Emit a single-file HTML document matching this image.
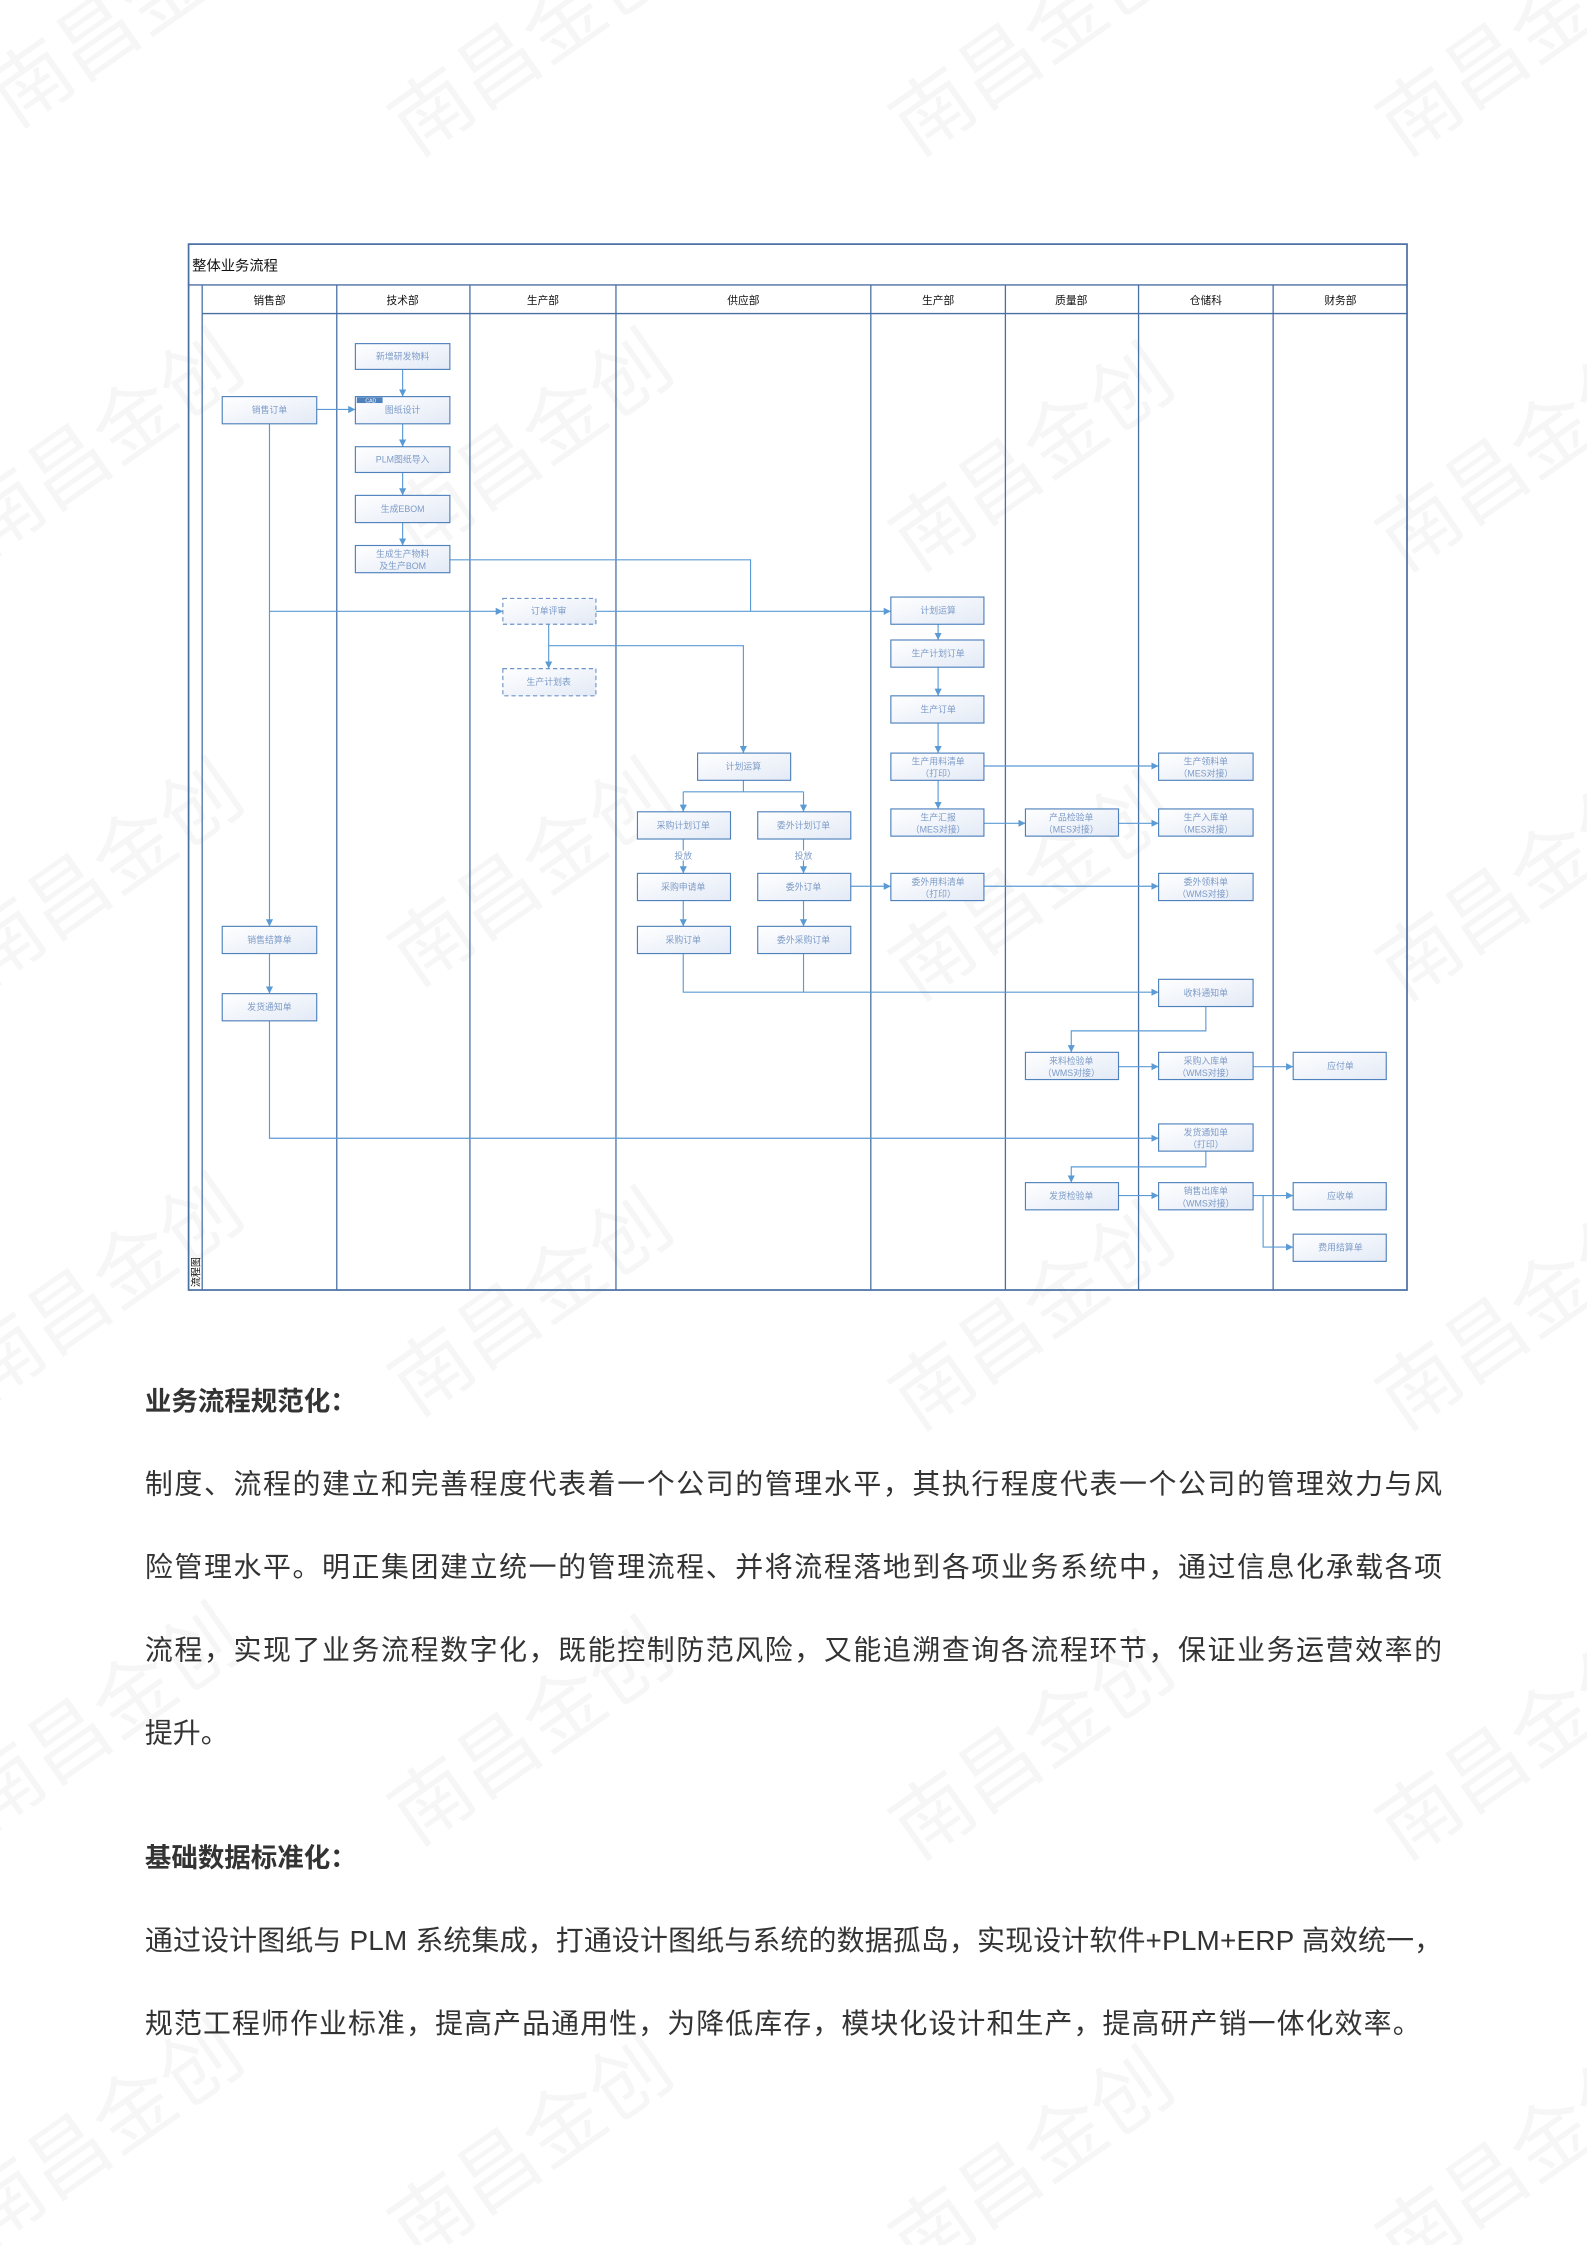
<!DOCTYPE html>
<html><head><meta charset="utf-8">
<style>
html,body{margin:0;padding:0;background:#fff;}
svg{display:block;}
.bx{fill:url(#g);stroke:#4f81bd;stroke-width:0.8;}
.dbx{fill:url(#g);stroke:#6f95c8;stroke-width:0.8;stroke-dasharray:3 2;}
.bt{font-family:"Liberation Sans","Noto Sans CJK SC",sans-serif;font-size:6.2px;fill:#7d9bc8;text-anchor:middle;}
.ln{fill:none;stroke:#5b9bd5;stroke-width:0.8;}
.lane{stroke:#4a6fa5;stroke-width:0.9;}
.hd{font-family:"Liberation Sans","Noto Sans CJK SC",sans-serif;font-size:7.5px;fill:#111;text-anchor:middle;}
.wm{font-family:"Noto Sans CJK SC",sans-serif;font-size:56px;fill:#000;fill-opacity:0.035;}
.p{font-family:"Liberation Sans","Noto Sans CJK SC",sans-serif;font-size:19.5px;fill:#333;}
.h{font-family:"Liberation Sans","Noto Sans CJK SC",sans-serif;font-size:18.5px;font-weight:bold;fill:#333;}
</style></head>
<body>
<svg width="1587" height="2245" viewBox="0 0 1108 1568" xmlns="http://www.w3.org/2000/svg">
<defs>
<linearGradient id="g" x1="0" y1="0" x2="1" y2="1"><stop offset="0" stop-color="#ffffff"/><stop offset="1" stop-color="#e3eaf6"/></linearGradient>
<marker id="a" markerUnits="userSpaceOnUse" markerWidth="6" markerHeight="6" refX="5" refY="3" orient="auto"><path d="M0,0.5 L5,3 L0,5.5 z" fill="#5b9bd5"/></marker>
</defs>
<rect width="1108" height="1568" fill="#fff"/>

<!-- watermarks -->
<g class="wm">
<text transform="translate(10,90) rotate(-35)">南昌金创</text>
<text transform="translate(290,110) rotate(-35)">南昌金创</text>
<text transform="translate(640,110) rotate(-35)">南昌金创</text>
<text transform="translate(980,110) rotate(-35)">南昌金创</text>
<text transform="translate(-10,390) rotate(-35)">南昌金创</text>
<text transform="translate(290,390) rotate(-35)">南昌金创</text>
<text transform="translate(640,400) rotate(-35)">南昌金创</text>
<text transform="translate(980,400) rotate(-35)">南昌金创</text>
<text transform="translate(-10,690) rotate(-35)">南昌金创</text>
<text transform="translate(290,690) rotate(-35)">南昌金创</text>
<text transform="translate(640,700) rotate(-35)">南昌金创</text>
<text transform="translate(980,700) rotate(-35)">南昌金创</text>
<text transform="translate(-10,980) rotate(-35)">南昌金创</text>
<text transform="translate(290,990) rotate(-35)">南昌金创</text>
<text transform="translate(640,1000) rotate(-35)">南昌金创</text>
<text transform="translate(980,1000) rotate(-35)">南昌金创</text>
<text transform="translate(-10,1280) rotate(-35)">南昌金创</text>
<text transform="translate(290,1290) rotate(-35)">南昌金创</text>
<text transform="translate(640,1300) rotate(-35)">南昌金创</text>
<text transform="translate(980,1300) rotate(-35)">南昌金创</text>
<text transform="translate(-10,1570) rotate(-35)">南昌金创</text>
<text transform="translate(290,1580) rotate(-35)">南昌金创</text>
<text transform="translate(640,1590) rotate(-35)">南昌金创</text>
<text transform="translate(980,1590) rotate(-35)">南昌金创</text>
</g>

<!-- frame -->
<rect x="131.5" y="170.5" width="851" height="730.5" fill="none" stroke="#4a6fa5" stroke-width="1.2"/>
<line x1="131" y1="199" x2="983" y2="199" class="lane"/>
<line x1="141" y1="219" x2="983" y2="219" class="lane"/>
<text x="134" y="189" font-family="Liberation Sans,Noto Sans CJK SC,sans-serif" font-size="10" fill="#111">整体业务流程</text>
<g>
<line x1="141" y1="199" x2="141" y2="901" class="lane"/>
<line x1="235" y1="199" x2="235" y2="901" class="lane"/>
<line x1="328" y1="199" x2="328" y2="901" class="lane"/>
<line x1="430" y1="199" x2="430" y2="901" class="lane"/>
<line x1="608" y1="199" x2="608" y2="901" class="lane"/>
<line x1="702" y1="199" x2="702" y2="901" class="lane"/>
<line x1="795" y1="199" x2="795" y2="901" class="lane"/>
<line x1="889" y1="199" x2="889" y2="901" class="lane"/>
</g>
<text x="188" y="212.5" class="hd">销售部</text>
<text x="281" y="212.5" class="hd">技术部</text>
<text x="379" y="212.5" class="hd">生产部</text>
<text x="519" y="212.5" class="hd">供应部</text>
<text x="655" y="212.5" class="hd">生产部</text>
<text x="748" y="212.5" class="hd">质量部</text>
<text x="842" y="212.5" class="hd">仓储科</text>
<text x="936" y="212.5" class="hd">财务部</text>
<text transform="translate(139,899) rotate(-90)" font-family="Liberation Sans,Noto Sans CJK SC,sans-serif" font-size="7" fill="#111">流程图</text>

<!-- connectors -->
<g class="ln">
<path d="M221 286 H248" marker-end="url(#a)"/>
<path d="M281 258 V277" marker-end="url(#a)"/>
<path d="M281 296 V312" marker-end="url(#a)"/>
<path d="M281 330 V346" marker-end="url(#a)"/>
<path d="M281 365 V381" marker-end="url(#a)"/>
<path d="M314 391 H524 V427"/>
<path d="M188 296 V647" marker-end="url(#a)"/>
<path d="M188 427 H351" marker-end="url(#a)"/>
<path d="M416 427 H622" marker-end="url(#a)"/>
<path d="M383 436 V467" marker-end="url(#a)"/>
<path d="M383 451 H519 V526" marker-end="url(#a)"/>
<path d="M655 436 V447" marker-end="url(#a)"/>
<path d="M655 466 V486" marker-end="url(#a)"/>
<path d="M655 505 V526" marker-end="url(#a)"/>
<path d="M655 545 V565" marker-end="url(#a)"/>
<path d="M519 545 V553 M477 553 H561"/>
<path d="M477 553 V567" marker-end="url(#a)"/>
<path d="M561 553 V567" marker-end="url(#a)"/>
<path d="M477 586 V610" marker-end="url(#a)"/>
<path d="M561 586 V610" marker-end="url(#a)"/>
<path d="M477 629 V647" marker-end="url(#a)"/>
<path d="M561 629 V647" marker-end="url(#a)"/>
<path d="M594 619 H622" marker-end="url(#a)"/>
<path d="M477 666 V693 H809" marker-end="url(#a)"/>
<path d="M561 666 V693"/>
<path d="M188 666 V694" marker-end="url(#a)"/>
<path d="M188 713 V795 H809" marker-end="url(#a)"/>
<path d="M687 535 H809" marker-end="url(#a)"/>
<path d="M687 575 H716" marker-end="url(#a)"/>
<path d="M781 575 H809" marker-end="url(#a)"/>
<path d="M687 619 H809" marker-end="url(#a)"/>
<path d="M842 703 V720 H748 V735" marker-end="url(#a)"/>
<path d="M781 745 H809" marker-end="url(#a)"/>
<path d="M875 745 H903" marker-end="url(#a)"/>
<path d="M842 804 V815 H748 V826" marker-end="url(#a)"/>
<path d="M781 835 H809" marker-end="url(#a)"/>
<path d="M875 835 H903" marker-end="url(#a)"/>
<path d="M882 835 V871 H903" marker-end="url(#a)"/>
</g>
<rect x="469" y="594" width="16" height="7" fill="#fff"/>
<rect x="553" y="594" width="16" height="7" fill="#fff"/>
<text x="477" y="600" class="bt" font-size="5.5">投放</text>
<text x="561" y="600" class="bt" font-size="5.5">投放</text>

<!-- boxes -->
<g>
<rect x="155" y="277" width="66" height="19" class="bx"/><text x="188" y="288.5" class="bt">销售订单</text>
<rect x="155" y="647" width="66" height="19" class="bx"/><text x="188" y="658.5" class="bt">销售结算单</text>
<rect x="155" y="694" width="66" height="19" class="bx"/><text x="188" y="705.5" class="bt">发货通知单</text>

<rect x="248" y="240" width="66" height="18" class="bx"/><text x="281" y="251" class="bt">新增研发物料</text>
<rect x="248" y="277" width="66" height="19" class="bx"/><text x="281" y="288.5" class="bt">图纸设计</text>
<rect x="249" y="277.5" width="18" height="4" fill="#4f81bd"/><text x="255" y="281" font-family="Liberation Sans,sans-serif" font-size="3.6" fill="#fff">CAD</text>
<rect x="248" y="312" width="66" height="18" class="bx"/><text x="281" y="323" class="bt">PLM图纸导入</text>
<rect x="248" y="346" width="66" height="19" class="bx"/><text x="281" y="357.5" class="bt">生成EBOM</text>
<rect x="248" y="381" width="66" height="19" class="bx"/><text x="281" y="389" class="bt">生成生产物料</text><text x="281" y="397.5" class="bt">及生产BOM</text>

<rect x="351" y="418" width="65" height="18" class="dbx"/><text x="383" y="429" class="bt">订单评审</text>
<rect x="351" y="467" width="65" height="19" class="dbx"/><text x="383" y="478.5" class="bt">生产计划表</text>

<rect x="487" y="526" width="65" height="19" class="bx"/><text x="519" y="537.5" class="bt">计划运算</text>
<rect x="445" y="567" width="65" height="19" class="bx"/><text x="477" y="578.5" class="bt">采购计划订单</text>
<rect x="529" y="567" width="65" height="19" class="bx"/><text x="561" y="578.5" class="bt">委外计划订单</text>
<rect x="445" y="610" width="65" height="19" class="bx"/><text x="477" y="621.5" class="bt">采购申请单</text>
<rect x="529" y="610" width="65" height="19" class="bx"/><text x="561" y="621.5" class="bt">委外订单</text>
<rect x="445" y="647" width="65" height="19" class="bx"/><text x="477" y="658.5" class="bt">采购订单</text>
<rect x="529" y="647" width="65" height="19" class="bx"/><text x="561" y="658.5" class="bt">委外采购订单</text>

<rect x="622" y="417" width="65" height="19" class="bx"/><text x="655" y="428.5" class="bt">计划运算</text>
<rect x="622" y="447" width="65" height="19" class="bx"/><text x="655" y="458.5" class="bt">生产计划订单</text>
<rect x="622" y="486" width="65" height="19" class="bx"/><text x="655" y="497.5" class="bt">生产订单</text>
<rect x="622" y="526" width="65" height="19" class="bx"/><text x="655" y="534" class="bt">生产用料清单</text><text x="655" y="542.5" class="bt">（打印）</text>
<rect x="622" y="565" width="65" height="19" class="bx"/><text x="655" y="573" class="bt">生产汇报</text><text x="655" y="581.5" class="bt">（MES对接）</text>
<rect x="622" y="610" width="65" height="19" class="bx"/><text x="655" y="618" class="bt">委外用料清单</text><text x="655" y="626.5" class="bt">（打印）</text>

<rect x="716" y="565" width="65" height="19" class="bx"/><text x="748" y="573" class="bt">产品检验单</text><text x="748" y="581.5" class="bt">（MES对接）</text>
<rect x="716" y="735" width="65" height="19" class="bx"/><text x="748" y="743" class="bt">来料检验单</text><text x="748" y="751.5" class="bt">（WMS对接）</text>
<rect x="716" y="826" width="65" height="19" class="bx"/><text x="748" y="837.5" class="bt">发货检验单</text>

<rect x="809" y="526" width="66" height="19" class="bx"/><text x="842" y="534" class="bt">生产领料单</text><text x="842" y="542.5" class="bt">（MES对接）</text>
<rect x="809" y="565" width="66" height="19" class="bx"/><text x="842" y="573" class="bt">生产入库单</text><text x="842" y="581.5" class="bt">（MES对接）</text>
<rect x="809" y="610" width="66" height="19" class="bx"/><text x="842" y="618" class="bt">委外领料单</text><text x="842" y="626.5" class="bt">（WMS对接）</text>
<rect x="809" y="684" width="66" height="19" class="bx"/><text x="842" y="695.5" class="bt">收料通知单</text>
<rect x="809" y="735" width="66" height="19" class="bx"/><text x="842" y="743" class="bt">采购入库单</text><text x="842" y="751.5" class="bt">（WMS对接）</text>
<rect x="809" y="785" width="66" height="19" class="bx"/><text x="842" y="793" class="bt">发货通知单</text><text x="842" y="801.5" class="bt">（打印）</text>
<rect x="809" y="826" width="66" height="19" class="bx"/><text x="842" y="834" class="bt">销售出库单</text><text x="842" y="842.5" class="bt">（WMS对接）</text>

<rect x="903" y="735" width="65" height="19" class="bx"/><text x="936" y="746.5" class="bt">应付单</text>
<rect x="903" y="826" width="65" height="19" class="bx"/><text x="936" y="837.5" class="bt">应收单</text>
<rect x="903" y="862" width="65" height="19" class="bx"/><text x="936" y="873.5" class="bt">费用结算单</text>
</g>

<!-- paragraphs -->
<text x="101" y="985" class="h">业务流程规范化：</text>
<text x="101" y="1043" class="p" textLength="906" lengthAdjust="spacing">制度、流程的建立和完善程度代表着一个公司的管理水平，其执行程度代表一个公司的管理效力与风</text>
<text x="101" y="1101" class="p" textLength="906" lengthAdjust="spacing">险管理水平。明正集团建立统一的管理流程、并将流程落地到各项业务系统中，通过信息化承载各项</text>
<text x="101" y="1159" class="p" textLength="906" lengthAdjust="spacing">流程，实现了业务流程数字化，既能控制防范风险，又能追溯查询各流程环节，保证业务运营效率的</text>
<text x="101" y="1217" class="p">提升。</text>
<text x="101" y="1304" class="h">基础数据标准化：</text>
<text x="101" y="1362" class="p" textLength="906" lengthAdjust="spacing">通过设计图纸与 PLM 系统集成，打通设计图纸与系统的数据孤岛，实现设计软件+PLM+ERP 高效统一，</text>
<text x="101" y="1420" class="p" textLength="891" lengthAdjust="spacing">规范工程师作业标准，提高产品通用性，为降低库存，模块化设计和生产，提高研产销一体化效率。</text>
</svg>
</body></html>
